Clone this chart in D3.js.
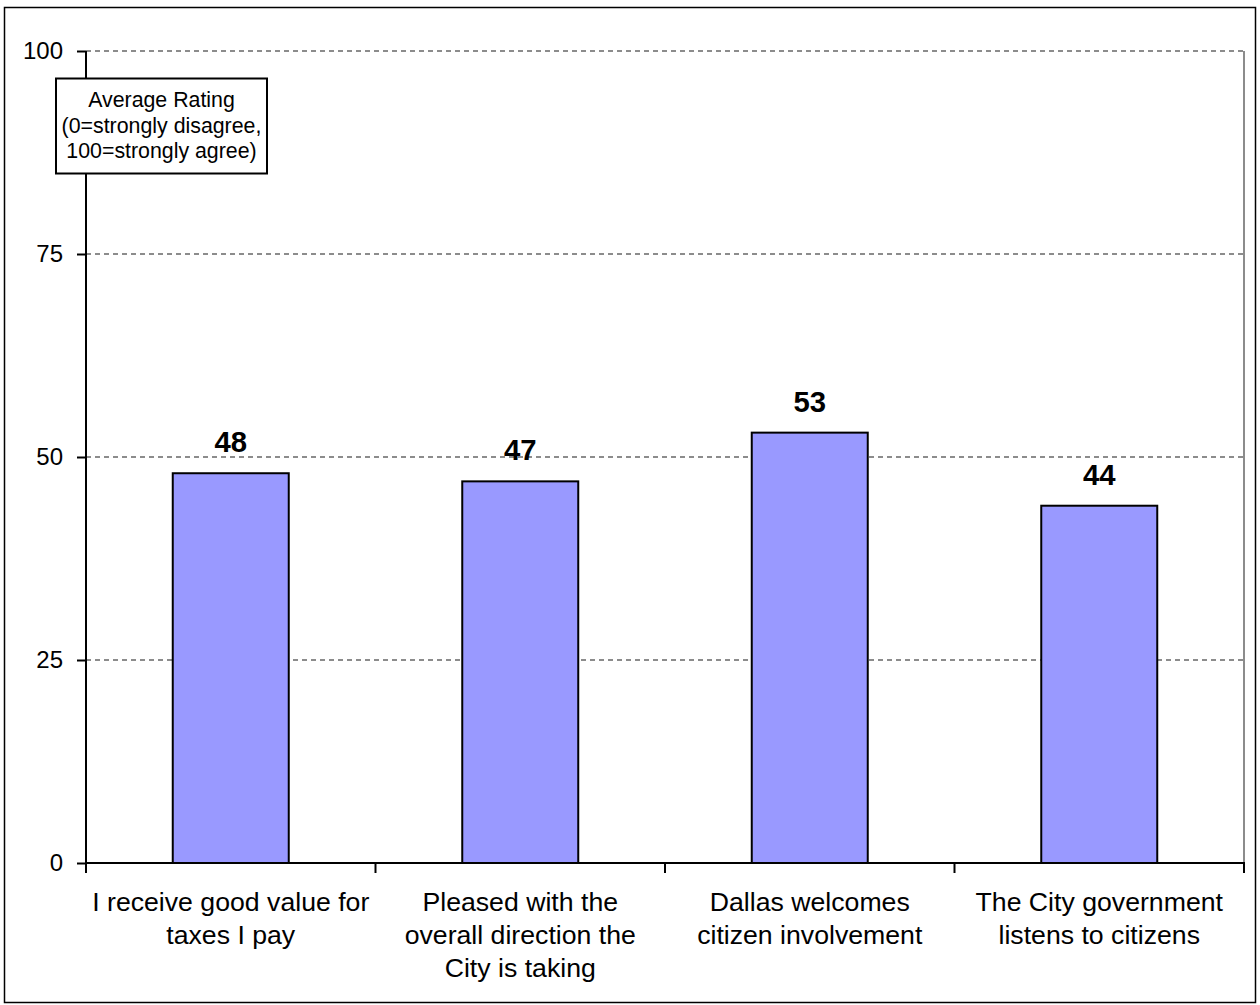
<!DOCTYPE html>
<html><head><meta charset="utf-8">
<script src="https://cdn.jsdelivr.net/npm/d3@7"></script>
<style>body{margin:0;background:#fff;} text{font-family:"Liberation Sans",Arial,sans-serif;}</style>
</head><body>
<svg id="c" width="1260" height="1005"></svg>
<script>
const categories = [
  ["I receive good value for","taxes I pay"],
  ["Pleased with the","overall direction the","City is taking"],
  ["Dallas welcomes","citizen involvement"],
  ["The City government","listens to citizens"]
];
const values = [48, 47, 53, 44];
const yTicks = [0, 25, 50, 75, 100];
const legendLines = ["Average Rating","(0=strongly disagree,","100=strongly agree)"];

const svg = d3.select("#c");
const L = 86, R = 1244, T = 51, B = 863;
svg.append("rect").attr("x",4.5).attr("y",7.5).attr("width",1251).attr("height",995)
  .attr("fill","#fff").attr("stroke","#000").attr("stroke-width",1.5);

const x = d3.scaleBand().domain(d3.range(categories.length)).range([L,R]).paddingInner(0).paddingOuter(0);
const y = d3.scaleLinear().domain([0,100]).range([B,T]);

// gridlines
svg.append("g").selectAll("line").data(yTicks.filter(d=>d>0)).join("line")
  .attr("x1",L).attr("x2",R).attr("y1",d=>y(d)).attr("y2",d=>y(d))
  .attr("stroke","#8c8c8c").attr("stroke-width",2).attr("stroke-dasharray","5,4");
// right border
svg.append("line").attr("x1",R).attr("x2",R).attr("y1",T).attr("y2",B).attr("stroke","#8c8c8c").attr("stroke-width",2);

// bars
const bw = 116;
svg.append("g").selectAll("rect").data(values).join("rect")
  .attr("x",(d,i)=>x(i)+x.bandwidth()/2-bw/2).attr("width",bw)
  .attr("y",d=>y(d)).attr("height",d=>B-y(d))
  .attr("fill","#9999ff").attr("stroke","#000").attr("stroke-width",2);

// value labels
svg.append("g").selectAll("text").data(values).join("text")
  .attr("x",(d,i)=>x(i)+x.bandwidth()/2).attr("y",d=>y(d)-21)
  .attr("text-anchor","middle").style("font-size","29.3px").attr("font-weight","bold").text(d=>d);

// y axis
const ya = svg.append("g").attr("transform",`translate(${L},0)`)
  .call(d3.axisLeft(y).tickValues(yTicks).tickSize(9).tickPadding(14));
ya.select(".domain").attr("stroke","#000").attr("stroke-width",2).attr("d",`M0,${T}V${B}`);
ya.selectAll(".tick line").attr("stroke","#000").attr("stroke-width",2);
ya.selectAll(".tick text").style("font-size","24px").attr("fill","#000")
  .style("font-family","'Liberation Sans', Arial, sans-serif");

// x axis
svg.append("line").attr("x1",L).attr("x2",R).attr("y1",B).attr("y2",B).attr("stroke","#000").attr("stroke-width",2);
const bounds = d3.range(categories.length+1).map(i=> i<categories.length ? x(i) : R);
svg.append("g").selectAll("line").data(bounds).join("line")
  .attr("x1",d=>d).attr("x2",d=>d).attr("y1",B-1).attr("y2",B+10)
  .attr("stroke","#000").attr("stroke-width",2);

// category labels
const cl = svg.append("g").selectAll("text").data(categories).join("text")
  .attr("x",(d,i)=>x(i)+x.bandwidth()/2).attr("y",911)
  .attr("text-anchor","middle").style("font-size","26.67px");
cl.each(function(d){
  const t = d3.select(this), cx = t.attr("x");
  d.forEach((line,j)=>t.append("tspan").attr("x",cx).attr("dy",j===0?0:33).text(line));
});

// legend box
svg.append("rect").attr("x",56).attr("y",78.5).attr("width",211).attr("height",95)
  .attr("fill","#fff").attr("stroke","#000").attr("stroke-width",2);
svg.append("g").selectAll("text").data(legendLines).join("text")
  .attr("x",161.5).attr("y",(d,i)=>107+i*25.5).attr("text-anchor","middle").style("font-size","21.33px").text(d=>d);
</script>
</body></html>
